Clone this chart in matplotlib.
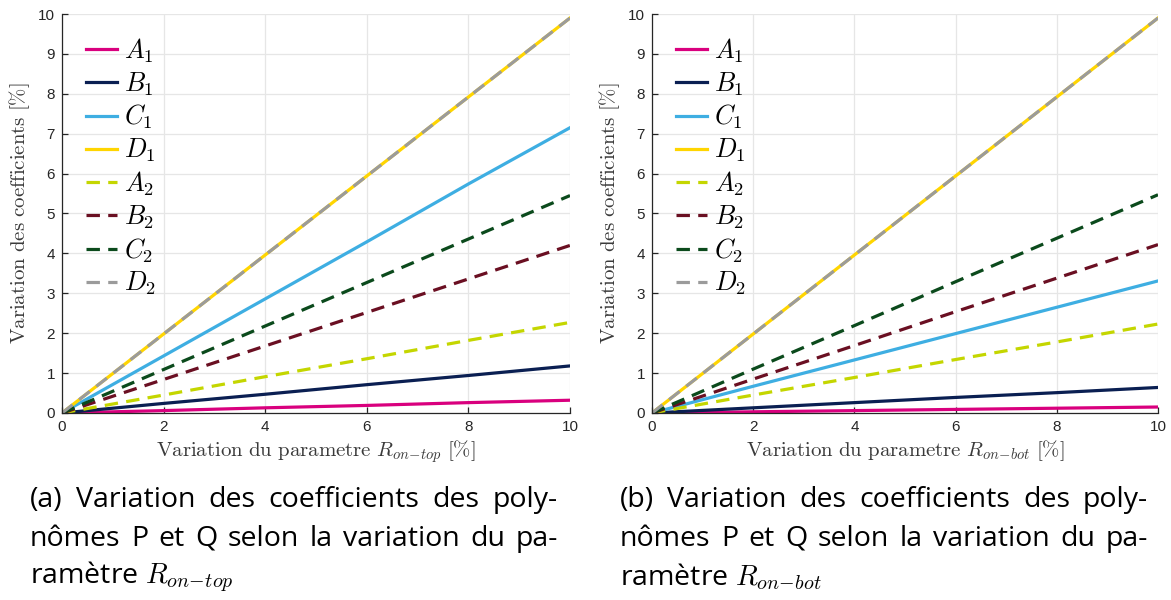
import numpy as np
import matplotlib
matplotlib.use("Agg")
import matplotlib.pyplot as plt

plt.rcParams['mathtext.fontset'] = 'cm'
plt.rcParams['font.family'] = ['Liberation Sans', 'DejaVu Sans']

# x positions (variation du parametre, %)
x = [0, 2, 4, 6, 8, 10]

names = ['A_1', 'B_1', 'C_1', 'D_1', 'A_2', 'B_2', 'C_2', 'D_2']
colors = ['#d9007e', '#0a1f52', '#3eaee2', '#ffd500',
          '#c4d600', '#6a0f22', '#0b4a1c', '#9b9b9b']
styles = ['-', '-', '-', '-', '--', '--', '--', '--']

# (a) variation of R_on-top
top_A1 = [0, 0.06, 0.13, 0.19, 0.26, 0.32]
top_B1 = [0, 0.24, 0.47, 0.71, 0.94, 1.18]
top_C1 = [0, 1.43, 2.86, 4.29, 5.74, 7.15]
top_D1 = [0, 1.98, 3.96, 5.94, 7.92, 9.90]
top_A2 = [0, 0.45, 0.91, 1.36, 1.82, 2.27]
top_B2 = [0, 0.84, 1.68, 2.52, 3.36, 4.20]
top_C2 = [0, 1.09, 2.18, 3.27, 4.36, 5.45]
top_D2 = [0, 1.98, 3.96, 5.94, 7.92, 9.90]

# (b) variation of R_on-bot
bot_A1 = [0, 0.03, 0.06, 0.09, 0.12, 0.15]
bot_B1 = [0, 0.13, 0.26, 0.39, 0.51, 0.64]
bot_C1 = [0, 0.67, 1.33, 1.99, 2.65, 3.31]
bot_D1 = [0, 1.98, 3.96, 5.94, 7.92, 9.90]
bot_A2 = [0, 0.45, 0.89, 1.34, 1.78, 2.23]
bot_B2 = [0, 0.85, 1.69, 2.54, 3.38, 4.22]
bot_C2 = [0, 1.10, 2.19, 3.29, 4.38, 5.47]
bot_D2 = [0, 1.98, 3.96, 5.94, 7.92, 9.90]

top_series = [top_A1, top_B1, top_C1, top_D1, top_A2, top_B2, top_C2, top_D2]
bot_series = [bot_A1, bot_B1, bot_C1, bot_D1, bot_A2, bot_B2, bot_C2, bot_D2]

xlabels = [r'$\mathrm{Variation\ du\ parametre}\ R_{on\!-\!top}\ [\%]$',
           r'$\mathrm{Variation\ du\ parametre}\ R_{on\!-\!bot}\ [\%]$']
ylabel = r'$\mathrm{Variation\ des\ coefficients}\ [\%]$'

captions = [
    [["(a)", "Variation", "des", "coefficients", "des", "poly-"],
     ["nômes", "P", "et", "Q", "selon", "la", "variation", "du", "pa-"],
     r"ramètre $R_{on\!-\!top}$"],
    [["(b)", "Variation", "des", "coefficients", "des", "poly-"],
     ["nômes", "P", "et", "Q", "selon", "la", "variation", "du", "pa-"],
     r"ramètre $R_{on\!-\!bot}$"],
]

W, H = 1171, 600
fig = plt.figure(figsize=(W / 100, H / 100), dpi=100)

ax_px = [(62, 570), (652, 1158)]
cap_px = [(30, 558), (620, 1148)]
ax_top, ax_bot = 14, 413
axc = '#262626'

for k, series in enumerate([top_series, bot_series]):
    l, r = ax_px[k]
    ax = fig.add_axes([l / W, 1 - ax_bot / H, (r - l) / W, (ax_bot - ax_top) / H])
    for name, ys, c, ls in zip(names, series, colors, styles):
        line, = ax.plot(x, ys, color=c, lw=2.3, ls=ls, label='$' + name + '$')
        if ls == '--':
            line.set_dashes((4.2, 2.6))
    ax.set_xlim(0, 10)
    ax.set_ylim(0, 10)
    ax.set_xticks(range(0, 11, 2))
    ax.set_yticks(range(0, 11))
    ax.grid(True, color='#e6e6e6', lw=0.9)
    ax.set_axisbelow(True)
    for s in ['top', 'right']:
        ax.spines[s].set_visible(False)
    for s in ['left', 'bottom']:
        ax.spines[s].set_color(axc)
        ax.spines[s].set_linewidth(0.9)
    ax.tick_params(direction='in', length=4, width=0.9, colors=axc,
                   labelsize=11, pad=5)
    ax.set_xlabel(xlabels[k], fontsize=15, color='#3a3a3a', labelpad=3)
    ax.set_ylabel(ylabel, fontsize=15, color='#3a3a3a', labelpad=4)
    ax.legend(loc='upper left', frameon=False, fontsize=19,
              handlelength=1.2, handletextpad=0.25, labelspacing=0.2,
              borderaxespad=0.3, bbox_to_anchor=(0.01, 0.99))

# captions, justified like the LaTeX subcaptions
fig.canvas.draw()
renderer = fig.canvas.get_renderer()
cap_size = 20.5
cap_font = ['Open Sans', 'DejaVu Sans']
line_y = [500, 539, 577]
for k, cap in enumerate(captions):
    x0, x1 = cap_px[k]
    for li in range(2):
        words = cap[li]
        texts = [fig.text(0, 1 - line_y[li] / H, w, fontsize=cap_size,
                          family=cap_font, va='center', ha='left')
                 for w in words]
        widths = [t.get_window_extent(renderer).width for t in texts]
        gap = (x1 - x0 - sum(widths)) / (len(words) - 1)
        pos = x0
        for t, w in zip(texts, widths):
            t.set_x(pos / W)
            pos += w + gap
    fig.text(x0 / W, 1 - line_y[2] / H, cap[2], fontsize=cap_size,
             family=cap_font, va='center', ha='left')

fig.savefig('out.png', dpi=100, facecolor='white')
